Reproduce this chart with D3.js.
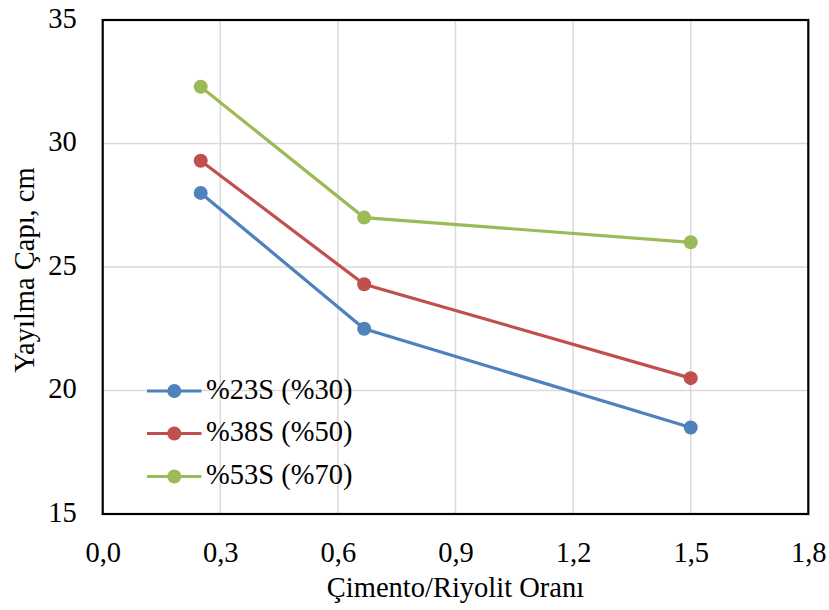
<!DOCTYPE html>
<html><head><meta charset="utf-8">
<script src="https://cdn.jsdelivr.net/npm/d3@7"></script>
<style>body{margin:0;background:#fff}svg{display:block}svg text{font-family:'Liberation Serif','Times New Roman',serif}</style>
</head><body><svg id="c" width="829" height="610"></svg>
<script>
const xVals = [0.25, 0.667, 1.5];
const seriesNames = ["%23S (%30)", "%38S (%50)", "%53S (%70)"];
const s23 = [28.0, 22.5, 18.5];
const s38 = [29.3, 24.3, 20.5];
const s53 = [32.3, 27.0, 26.0];
const colors = ["#4f81bd", "#c0504d", "#9bbb59"];
const xTicks = [0, 0.3, 0.6, 0.9, 1.2, 1.5, 1.8];
const yTicks = [15, 20, 25, 30, 35];
const xTitle = "Çimento/Riyolit Oranı";
const yTitle = "Yayılma Çapı, cm";

const svg = d3.select("#c");
const L = 102.7, R = 808.3, T = 20, B = 514;
const x = d3.scaleLinear().domain([0, 1.8]).range([L, R]);
const y = d3.scaleLinear().domain([15, 35]).range([B, T]);
const font = "'Liberation Serif','Times New Roman',serif";
const fs = 28.5;

// grid
svg.append("g").selectAll("line").data(xTicks.slice(1, -1)).join("line")
  .attr("x1", d => x(d)).attr("x2", d => x(d)).attr("y1", T).attr("y2", B)
  .attr("stroke", "#d9d9d9").attr("stroke-width", 1.5);
svg.append("g").selectAll("line").data(yTicks.slice(1, -1)).join("line")
  .attr("x1", L).attr("x2", R).attr("y1", d => y(d)).attr("y2", d => y(d))
  .attr("stroke", "#d9d9d9").attr("stroke-width", 1.5);

// axes (tick labels only)
const fmt = d => d.toFixed(1).replace(".", ",");
const xa = svg.append("g").attr("transform", `translate(0,${B})`)
  .call(d3.axisBottom(x).tickValues(xTicks).tickFormat(fmt).tickSize(0).tickPadding(0));
xa.select(".domain").remove();
xa.attr("font-family", font).attr("font-size", fs);
xa.selectAll("text").attr("fill", "#000").attr("y", 47.5).attr("dy", null);
const ya = svg.append("g").attr("transform", `translate(${L},0)`)
  .call(d3.axisLeft(y).tickValues(yTicks).tickFormat(d3.format("d")).tickSize(0).tickPadding(26));
ya.select(".domain").remove();
ya.attr("font-family", font).attr("font-size", fs);
ya.selectAll("text").attr("fill", "#000").attr("dy", "0.26em");

// border
svg.append("rect").attr("x", L).attr("y", T).attr("width", R - L).attr("height", B - T)
  .attr("fill", "none").attr("stroke", "#000").attr("stroke-width", 2.2);

// series
const data = [s23, s38, s53];
const line = d3.line().x((d, i) => x(xVals[i])).y(d => y(d));
data.forEach((s, k) => {
  svg.append("path").datum(s).attr("d", line).attr("fill", "none")
    .attr("stroke", colors[k]).attr("stroke-width", 3.2);
  svg.append("g").selectAll("circle").data(s).join("circle")
    .attr("cx", (d, i) => x(xVals[i])).attr("cy", d => y(d)).attr("r", 7)
    .attr("fill", colors[k]);
});

// legend
const legY = [391, 433.5, 476.5];
seriesNames.forEach((n, k) => {
  const g = svg.append("g");
  g.append("line").attr("x1", 147).attr("x2", 201.5).attr("y1", legY[k]).attr("y2", legY[k])
    .attr("stroke", colors[k]).attr("stroke-width", 3.2);
  g.append("circle").attr("cx", 174.3).attr("cy", legY[k]).attr("r", 7).attr("fill", colors[k]);
  g.append("text").attr("x", 206).attr("y", legY[k] + 7.5)
    .attr("font-family", font).attr("font-size", fs).text(n);
});

// titles
svg.append("text").attr("x", (L + R) / 2).attr("y", 597).attr("text-anchor", "middle")
  .attr("font-family", font).attr("font-size", fs).text(xTitle);
svg.append("text").attr("transform", `translate(34,${(T + B) / 2 + 3}) rotate(-90)`)
  .attr("text-anchor", "middle").attr("font-family", font).attr("font-size", fs).text(yTitle);
</script></body></html>
